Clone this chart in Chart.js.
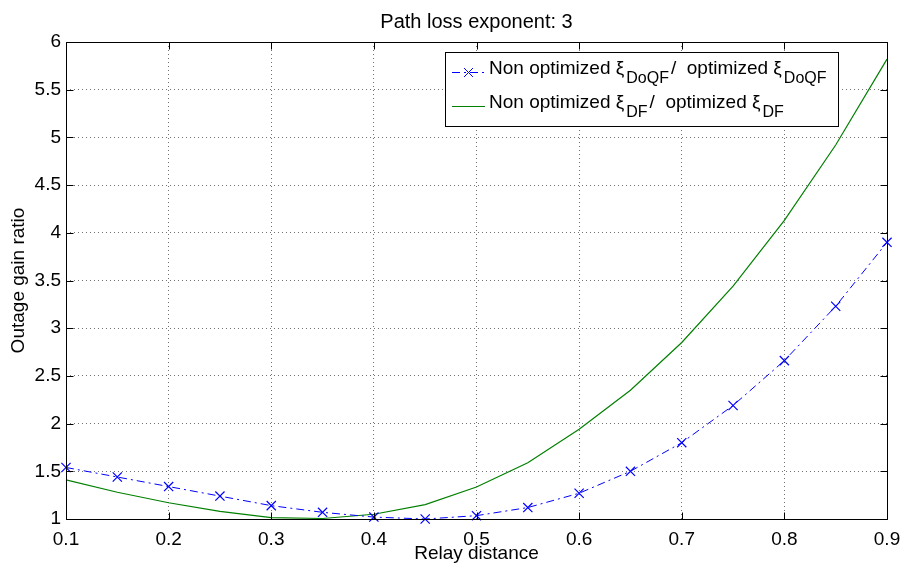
<!DOCTYPE html>
<html>
<head>
<meta charset="utf-8">
<script src="https://cdn.jsdelivr.net/npm/chart.js@4/dist/chart.umd.min.js"></script>
<style>
  body { margin: 0; background: #fff; }
  #wrap { width: 904px; height: 565px; }
</style>
</head>
<body>
<div id="wrap"><canvas id="myChart" width="904" height="565"></canvas></div>
<script>
// relay distance samples
const distance = [0.1, 0.15, 0.2, 0.25, 0.3, 0.35, 0.4, 0.45, 0.5, 0.55, 0.6, 0.65, 0.7, 0.75, 0.8, 0.85, 0.9];
// outage gain ratios
const gainDoQF = [1.54, 1.44, 1.34, 1.24, 1.14, 1.07, 1.02, 1.0, 1.035, 1.12, 1.27, 1.50, 1.80, 2.19, 2.66, 3.23, 3.90];
const gainDF = [1.41, 1.28, 1.17, 1.08, 1.015, 1.005, 1.05, 1.15, 1.335, 1.59, 1.94, 2.35, 2.85, 3.44, 4.13, 4.92, 5.82];

const titleText = 'Path loss exponent: 3';
const xLabel = 'Relay distance';
const yLabel = 'Outage gain ratio';
// legend parts: [text, isSubscript]
const legendDoQF = [['Non optimized ξ', false], ['DoQF', true], ['/  optimized ξ', false], ['DoQF', true]];
const legendDF = [['Non optimized ξ', false], ['DF', true], ['/  optimized ξ', false], ['DF', true]];

const FONT = '"Liberation Sans", Arial, Helvetica, sans-serif';
const BLUE = '#0000ff';
const GREEN = '#008000';

function pts(xs, ys) {
	return xs.map((x, i) => ({x: x, y: ys[i]}));
}

// title, axes box with inward ticks, and legend with subscripts
const matlabLook = {
	id: 'matlabLook',
	afterDraw(chart) {
		const ctx = chart.ctx;
		const a = chart.chartArea;
		const xs = chart.scales.x, ys = chart.scales.y;
		const L = Math.round(a.left) + 0.5, R = Math.round(a.right) + 0.5;
		const T = Math.round(a.top) + 0.5, B = Math.round(a.bottom) + 0.5;
		ctx.save();

		ctx.fillStyle = '#000';
		ctx.font = '20px ' + FONT;
		ctx.textAlign = 'center';
		ctx.textBaseline = 'alphabetic';
		ctx.fillText(titleText, (a.left + a.right) / 2, 28);

		ctx.strokeStyle = '#000';
		ctx.lineWidth = 1;
		ctx.beginPath();
		ctx.rect(L, T, R - L, B - T);
		const tl = 7;
		xs.ticks.forEach(t => {
			const px = Math.round(xs.getPixelForValue(t.value)) + 0.5;
			ctx.moveTo(px, B); ctx.lineTo(px, B - tl);
			ctx.moveTo(px, T); ctx.lineTo(px, T + tl);
		});
		ys.ticks.forEach(t => {
			const py = Math.round(ys.getPixelForValue(t.value)) + 0.5;
			ctx.moveTo(L, py); ctx.lineTo(L + tl, py);
			ctx.moveTo(R, py); ctx.lineTo(R - tl, py);
		});
		ctx.stroke();

		// legend
		const mainFont = '19px ' + FONT, subFont = '16px ' + FONT;
		function widthOf(parts) {
			let w = 0;
			parts.forEach(p => {
				ctx.font = p[1] ? subFont : mainFont;
				w += ctx.measureText(p[0]).width + (p[1] ? 4 : 0);
			});
			return w;
		}
		const textW = Math.max(widthOf(legendDoQF), widthOf(legendDF));
		const boxW = Math.round(44 + textW + 9);
		const boxR = Math.round(a.right) - 49;
		const boxL = boxR - boxW;
		const boxT = Math.round(a.top) + 10;
		const boxH = 74;
		ctx.fillStyle = '#fff';
		ctx.fillRect(boxL, boxT, boxW, boxH);
		ctx.strokeStyle = '#000';
		ctx.strokeRect(boxL + 0.5, boxT + 0.5, boxW, boxH);

		const rows = [
			{parts: legendDoQF, color: BLUE, dash: [8, 4, 2, 4], marker: true, cy: boxT + 20},
			{parts: legendDF, color: GREEN, dash: [], marker: false, cy: boxT + 54}
		];
		rows.forEach(r => {
			const y = Math.round(r.cy) + 0.5;
			ctx.strokeStyle = r.color;
			ctx.lineWidth = 1;
			ctx.setLineDash(r.dash);
			ctx.beginPath();
			ctx.moveTo(boxL + 7, y);
			ctx.lineTo(boxL + 40, y);
			ctx.stroke();
			ctx.setLineDash([]);
			if (r.marker) {
				const cx = boxL + 23.5, s = 4.5;
				ctx.beginPath();
				ctx.moveTo(cx - s, y - s); ctx.lineTo(cx + s, y + s);
				ctx.moveTo(cx - s, y + s); ctx.lineTo(cx + s, y - s);
				ctx.stroke();
			}
			let x = boxL + 44;
			ctx.fillStyle = '#000';
			ctx.textAlign = 'left';
			ctx.textBaseline = 'alphabetic';
			r.parts.forEach(p => {
				ctx.font = p[1] ? subFont : mainFont;
				if (p[1]) x += 2;
				ctx.fillText(p[0], x, p[1] ? r.cy + 11 : r.cy + 2);
				x += ctx.measureText(p[0]).width + (p[1] ? 2 : 0);
			});
		});
		ctx.restore();
	}
};

const ctx = document.getElementById('myChart').getContext('2d');
const myChart = new Chart(ctx, {
	type: 'line',
	data: {
		datasets: [{
			label: 'DoQF',
			data: pts(distance, gainDoQF),
			borderColor: BLUE,
			borderWidth: 1,
			borderDash: [8, 4, 2, 4],
			pointStyle: 'crossRot',
			pointRadius: 6.5,
			pointBorderColor: BLUE,
			pointBorderWidth: 1.2,
			pointBackgroundColor: BLUE,
			fill: false,
			tension: 0,
			clip: false
		}, {
			label: 'DF',
			data: pts(distance, gainDF),
			borderColor: GREEN,
			borderWidth: 1.2,
			pointRadius: 0,
			fill: false,
			tension: 0,
			clip: false
		}]
	},
	options: {
		responsive: false,
		animation: false,
		devicePixelRatio: 1,
		layout: {padding: {top: 42, right: 17, left: 0, bottom: 0}},
		plugins: {
			legend: {display: false},
			title: {display: false},
			tooltip: {enabled: false}
		},
		scales: {
			x: {
				type: 'linear',
				min: 0.1,
				max: 0.9,
				ticks: {
					stepSize: 0.1,
					padding: 9,
					color: '#000',
					font: {family: FONT, size: 19},
					callback: v => Number(v.toFixed(1)).toString()
				},
				grid: {color: 'rgba(0,0,0,0.55)', lineWidth: 1, drawTicks: false},
				border: {display: false, dash: [1, 3]},
				title: {display: true, text: xLabel, color: '#000', font: {family: FONT, size: 19}, padding: {top: 0, bottom: 0}},
				afterFit: s => { s.height = 46; s.paddingLeft = 0; s.paddingRight = 0; }
			},
			y: {
				min: 1,
				max: 6,
				ticks: {
					stepSize: 0.5,
					padding: 5,
					color: '#000',
					font: {family: FONT, size: 19},
					callback: v => Number(v.toFixed(1)).toString()
				},
				grid: {color: 'rgba(0,0,0,0.55)', lineWidth: 1, drawTicks: false},
				border: {display: false, dash: [1, 3]},
				title: {display: true, text: yLabel, color: '#000', font: {family: FONT, size: 19}, padding: {top: 7, bottom: 0}},
				afterFit: s => { s.width = 66; s.paddingTop = 0; s.paddingBottom = 0; }
			}
		}
	},
	plugins: [matlabLook]
});
</script>
</body>
</html>
